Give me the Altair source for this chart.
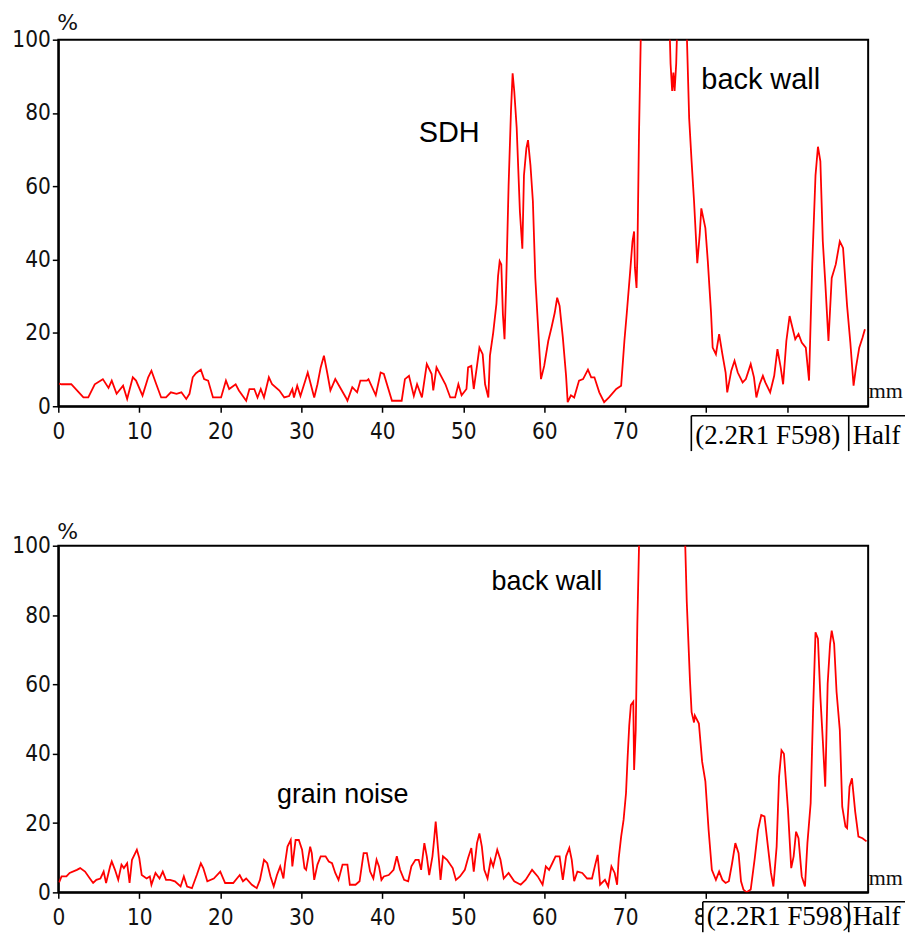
import altair as alt
import pandas as pd

# ---------------- data ----------------
top_x = [0.1, 0.4, 1.6, 3.1, 3.7, 4.5, 5.5, 6.2, 6.6, 7.2, 8.0, 8.5, 9.2, 9.6, 10.4, 11.1, 11.5, 12.1,
         12.7, 13.3, 13.9, 14.6, 15.2, 15.8, 16.2, 16.6, 17.0, 17.6, 18.0, 18.5, 19.1, 20.1, 20.7, 21.1,
         21.9, 22.3, 23.2, 23.6, 24.2, 24.6, 25.0, 25.4, 26.0, 26.4, 27.3, 27.9, 28.5, 28.9, 29.1, 29.5,
         29.9, 30.5, 30.8, 31.6, 32.0, 32.4, 32.8, 33.2, 33.6, 34.2, 35.5, 35.7, 36.3, 36.9, 37.3, 38.1,
         38.3, 39.2, 39.8, 40.2, 41.2, 42.4, 42.8, 43.3, 43.9, 44.3, 44.9, 45.5, 46.1, 46.3, 46.7, 47.8,
         48.4, 49.0, 49.4, 49.8, 50.4, 50.6, 51.0, 51.3, 51.7, 52.0, 52.4, 52.7, 53.1, 53.3, 53.7, 54.1,
         54.3, 54.5, 54.7, 54.9, 55.1, 55.3, 55.6, 55.9, 56.1, 56.3, 56.6, 57.0, 57.3, 57.5, 57.8, 58.0,
         58.3, 58.6, 58.9, 59.2, 59.6, 60.0, 60.5, 60.9, 61.3, 61.6, 61.9, 62.3, 62.7, 62.9, 63.3, 63.7,
         64.3, 64.8, 65.4, 65.8, 66.2, 66.8, 67.4, 68.0, 68.9, 69.5, 69.9, 70.2, 70.6, 70.9, 71.1, 71.2,
         71.4, 71.5, 71.7, 72.0, 75.4, 75.6, 75.8, 75.95, 76.1, 76.3, 76.5, 77.5, 77.9, 78.2, 78.5, 78.9,
         79.2, 79.4, 79.9, 80.2, 80.6, 80.8, 81.2, 81.6, 82.0, 82.4, 82.6, 83.1, 83.5, 83.9, 84.5, 84.9,
         85.5, 85.9, 86.2, 86.6, 87.0, 87.3, 87.9, 88.4, 88.8, 89.2, 89.5, 89.9, 90.3, 90.7, 91.0, 91.4,
         91.8, 92.3, 92.7, 93.1, 93.5, 93.8, 94.1, 94.4, 94.7, 95.1, 95.5, 96.0, 96.5, 96.9, 97.4, 97.8,
         98.2, 98.5, 98.9, 99.3, 99.6]
top_y = [6.2, 6.0, 6.0, 2.4, 2.4, 6.0, 7.4, 5.0, 7.0, 3.4, 5.6, 2.0, 7.9, 7.0, 2.9, 7.9, 9.7, 6.0,
         2.4, 2.4, 3.8, 3.4, 3.8, 2.0, 3.4, 7.9, 9.0, 10.0, 7.4, 7.0, 2.4, 2.4, 7.0, 4.7,
         6.0, 4.3, 1.5, 4.7, 4.7, 2.4, 4.7, 2.4, 7.9, 6.0, 4.3, 2.4, 2.8, 4.7, 2.4, 5.6,
         2.8, 7.0, 9.2, 2.4, 6.0, 10.6, 13.8, 9.2, 4.3, 7.4, 2.4, 1.5, 5.2, 3.8, 7.0, 7.0,
         7.4, 3.0, 9.2, 8.8, 1.5, 1.5, 7.4, 8.3, 2.8, 6.0, 2.4, 11.5, 8.8, 4.3, 10.6, 6.0,
         2.4, 2.4, 6.0, 3.0, 4.7, 10.6, 11.0, 4.7, 11.0, 16.0, 14.2, 6.0, 2.4, 13.8, 20.0, 28.0,
         35.5, 39.6, 38.7, 25.0, 18.3, 33.0, 60.0, 80.8, 90.8, 86.0, 76.0, 53.0, 43.0, 63.0, 70.4, 72.6,
         65.8, 56.0, 35.0, 23.3, 7.4, 11.0, 17.8, 21.5, 25.5, 29.6, 27.4, 18.7, 8.3, 1.1, 3.0, 2.4,
         7.0, 7.4, 10.0, 7.9, 7.9, 3.8, 1.1, 2.4, 4.7, 5.6, 17.8, 25.5, 36.4, 45.0, 47.7, 37.8,
         32.3, 40.5, 73.6, 110.0, 110.0, 93.5, 86.0, 91.0, 86.0, 93.5, 110.0, 110.0, 78.5, 66.8, 56.0, 39.0,
         46.8, 54.0, 48.6, 39.6, 25.5, 16.0, 14.2, 19.7, 14.2, 9.2, 3.8, 9.7, 12.4, 9.2, 6.5, 7.4,
         11.5, 7.9, 2.4, 6.0, 8.3, 6.5, 3.8, 8.3, 15.6, 10.6, 6.0, 17.8, 24.6, 21.0, 18.3, 19.7,
         17.4, 16.0, 7.0, 39.0, 63.0, 70.8, 66.8, 45.0, 34.0, 17.8, 35.0, 38.7, 45.0, 43.2, 27.4, 17.4,
         5.6, 10.6, 16.0, 18.7, 21.0]

bot_x = [0.1, 0.4, 1.0, 1.4, 2.3, 2.7, 3.3, 3.9, 4.3, 4.7, 5.2, 5.6, 5.9, 6.4, 6.6, 7.0, 7.4, 7.8,
         8.1, 8.5, 8.8, 9.1, 9.5, 9.7, 10.0, 10.3, 10.9, 11.3, 11.5, 12.0, 12.5, 12.9, 13.3, 13.8,
         14.4, 15.1, 15.5, 15.9, 16.5, 17.1, 17.6, 17.9, 18.4, 19.2, 20.0, 20.6, 21.6, 22.4, 22.8,
         23.2, 23.9, 24.5, 24.9, 25.4, 25.8, 26.2, 26.6, 27.0, 27.4, 27.8, 28.0, 28.3, 28.7, 28.9,
         29.3, 29.7, 30.1, 30.4, 30.6, 31.1, 31.3, 31.6, 32.0, 32.4, 33.0, 33.4, 33.8, 34.2, 34.6,
         35.1, 35.7, 36.0, 36.7, 37.2, 37.7, 38.1, 38.5, 38.9, 39.3, 39.6, 39.9, 40.2, 40.8, 41.4,
         41.8, 42.2, 42.7, 43.2, 43.6, 44.1, 44.5, 44.8, 45.2, 45.5, 45.8, 46.2, 46.4, 46.6, 46.9,
         47.2, 47.5, 48.0, 48.7, 49.1, 49.6, 50.2, 50.6, 51.0, 51.3, 51.7, 52.0, 52.3, 52.6, 53.0,
         53.4, 53.7, 54.2, 54.6, 55.0, 55.6, 56.3, 57.1, 57.7, 58.5, 59.2, 59.8, 60.2, 60.6, 61.0,
         61.4, 61.9, 62.3, 62.7, 63.1, 63.4, 63.7, 64.1, 64.7, 65.3, 65.9, 66.3, 66.6, 66.9, 67.5,
         67.9, 68.3, 68.7, 69.0, 69.2, 69.5, 69.8, 70.1, 70.3, 70.5, 70.7, 71.0, 71.1, 71.3, 71.5,
         71.8, 77.3, 77.6, 78.0, 78.2, 78.5, 78.6, 79.1, 79.5, 79.9, 80.3, 80.7, 81.2, 81.6, 82.0,
         82.4, 82.8, 83.2, 83.6, 84.0, 84.3, 84.6, 85.0, 85.5, 86.0, 86.4, 86.8, 87.2, 87.6, 88.0,
         88.3, 88.7, 89.0, 89.3, 89.6, 90.1, 90.5, 90.8, 91.1, 91.4, 91.8, 92.2, 92.5, 92.9, 93.2,
         93.5, 93.8, 94.1, 94.4, 94.7, 95.0, 95.3, 95.5, 95.8, 96.1, 96.5, 96.8, 97.2, 97.4, 97.7,
         98.0, 98.4, 98.8, 99.3, 99.8]
bot_y = [2.9, 4.6, 4.6, 5.6, 6.5, 7.0, 6.0, 4.0, 2.7, 3.6, 4.0, 6.0, 2.7, 7.5, 8.9, 6.5, 3.6, 8.0,
         7.0, 8.4, 2.7, 9.4, 11.3, 12.3, 9.9, 5.0, 4.0, 4.6, 2.2, 5.6, 4.0, 6.0, 3.6, 3.6,
         3.2, 1.7, 4.6, 1.7, 1.2, 5.0, 8.4, 7.0, 3.2, 4.0, 6.0, 2.7, 2.7, 5.0, 3.2,
         4.0, 2.2, 1.2, 3.6, 9.4, 8.4, 4.6, 1.7, 5.0, 7.5, 4.0, 8.4, 13.2, 15.1, 7.5,
         15.1, 15.1, 12.3, 7.0, 6.5, 13.2, 11.3, 3.6, 8.0, 10.4, 10.4, 8.9, 8.4, 5.6, 3.6,
         8.0, 8.0, 2.2, 2.2, 3.2, 11.3, 11.3, 6.0, 4.0, 9.4, 7.5, 3.6, 4.6, 5.0, 6.5,
         10.4, 6.5, 3.6, 3.2, 7.5, 9.4, 9.4, 6.5, 14.2, 10.4, 5.0, 10.4, 15.1, 20.4, 12.3,
         3.6, 10.4, 9.4, 7.0, 3.6, 4.6, 6.5, 9.9, 12.8, 6.0, 14.2, 17.0, 13.2, 6.5, 4.0,
         9.4, 7.5, 12.3, 9.4, 4.0, 5.6, 3.2, 2.2, 3.6, 6.5, 4.6, 2.2, 7.5, 6.5, 8.4,
         10.4, 10.4, 3.6, 10.4, 12.8, 9.4, 3.2, 6.0, 5.6, 4.0, 4.0, 8.0, 10.8, 2.2, 3.6,
         1.7, 7.5, 5.6, 2.2, 9.9, 16.1, 20.9, 28.6, 39.0, 48.2, 54.0, 55.0, 35.3, 46.8, 77.5,
         110.0, 110.0, 84.0, 61.0, 52.0, 49.0, 51.0, 48.7, 37.7, 32.0, 18.0, 6.5, 3.6, 6.0, 3.6,
         2.7, 3.2, 8.4, 14.2, 11.3, 3.2, 0.8, 0.0, 0.8, 9.9, 18.0, 22.3, 21.9, 13.7, 5.6,
         1.7, 13.2, 33.4, 41.0, 40.0, 23.8, 7.0, 10.4, 17.5, 15.6, 4.6, 1.7, 14.2, 25.7, 52.5,
         75.0, 73.2, 56.4, 43.9, 30.5, 60.2, 71.7, 75.5, 71.7, 57.8, 46.8, 24.7, 19.0, 18.5, 30.5,
         32.9, 23.3, 16.1, 15.6, 14.7]

x_ticks = [0, 10, 20, 30, 40, 50, 60, 70, 80, 90]
y_ticks = [0, 20, 40, 60, 80, 100]

top_notes = pd.DataFrame({"x": [44.5, 79.4], "y": [72.0, 86.5], "t": ["SDH", "back wall"]})
bot_notes = pd.DataFrame({"x": [53.5, 27.0], "y": [87.1, 25.8], "t": ["back wall", "grain noise"]})

W = 813
LABEL_FONT = "Liberation Sans Narrow, DejaVu Sans Condensed, Liberation Sans, sans-serif"
SERIF = "Liberation Serif, Times New Roman, serif"
one = pd.DataFrame({"k": [0]})


def panel(xs, ys, notes, h, note_size, box_left, box_top, box_bottom, pct_base, mm_base,
          box_text_base, last_label):
    df = pd.DataFrame({"x": xs, "y": ys})
    xscale = alt.Scale(domain=[0, 100], nice=False, zero=False)
    yscale = alt.Scale(domain=[0, 100], nice=False)
    line = alt.Chart(df).mark_line(color="#ff0000", strokeWidth=1.8, clip=True).encode(
        x=alt.X("x:Q", scale=xscale,
                axis=alt.Axis(values=x_ticks, title=None, labelFlush=False, labelPadding=8,
                              labelExpr=f"datum.value <= {last_label} ? datum.label : ''",
                              labelFontSize=22.5, labelFont=LABEL_FONT, labelColor="#111")),
        y=alt.Y("y:Q", scale=yscale,
                axis=alt.Axis(values=y_ticks, title=None, labelPadding=2,
                              labelFontSize=22.5, labelFont=LABEL_FONT, labelColor="#111")),
    )
    notes_layer = alt.Chart(notes).mark_text(
        align="left", baseline="alphabetic", fontSize=note_size, font="Liberation Sans, Arial, sans-serif",
        color="black"
    ).encode(x="x:Q", y="y:Q", text="t:N")

    cover = alt.Chart(one).mark_rect(fill="white").encode(
        x=alt.value(box_left), x2=alt.value(850), y=alt.value(box_top), y2=alt.value(box_bottom))
    top_rule = alt.Chart(one).mark_rule(color="black", strokeWidth=1.6).encode(
        x=alt.value(box_left), x2=alt.value(850), y=alt.value(box_top))
    left_rule = alt.Chart(one).mark_rule(color="black", strokeWidth=1.6).encode(
        x=alt.value(box_left), y=alt.value(box_top), y2=alt.value(box_bottom))
    sep_rule = alt.Chart(one).mark_rule(color="black", strokeWidth=1.6).encode(
        x=alt.value(793.5), y=alt.value(box_top), y2=alt.value(box_bottom))
    box_text = alt.Chart(one).mark_text(
        align="left", baseline="alphabetic", fontSize=27, font=SERIF, color="black"
    ).encode(x=alt.value(box_left + 4), y=alt.value(box_text_base), text=alt.value("(2.2R1 F598)"))
    half_text = alt.Chart(one).mark_text(
        align="left", baseline="alphabetic", fontSize=27, font=SERIF, color="black"
    ).encode(x=alt.value(797.5), y=alt.value(box_text_base), text=alt.value("Half"))
    pct = alt.Chart(one).mark_text(
        align="left", baseline="alphabetic", fontSize=22, font="DejaVu Sans, sans-serif", color="#111"
    ).encode(x=alt.value(-1), y=alt.value(pct_base), text=alt.value("%"))
    mm = alt.Chart(one).mark_text(
        align="left", baseline="alphabetic", fontSize=22, font=SERIF, color="#111"
    ).encode(x=alt.value(813.5), y=alt.value(mm_base), text=alt.value("mm"))

    return alt.layer(line, notes_layer, cover, top_rule, left_rule, sep_rule,
                     box_text, half_text, pct, mm).properties(width=W, height=h)


top = panel(top_x, top_y, top_notes, 368, 29, 635.5, 377.5, 413, -9.5, 360, 406, 70)
bottom = panel(bot_x, bot_y, bot_notes, 348, 27, 647, 357.5, 388, -7, 341, 381, 80)

chart = alt.vconcat(top, bottom, spacing=67).properties(
    padding={"left": 2.5, "top": 1, "right": 0, "bottom": 0}
).configure_view(stroke="black", strokeWidth=2).configure_axis(
    domainColor="black", domainWidth=2, tickColor="black", tickWidth=1.5, tickSize=6, grid=False
)

chart.save("out.html", embed_options={"renderer": "svg", "actions": False})
